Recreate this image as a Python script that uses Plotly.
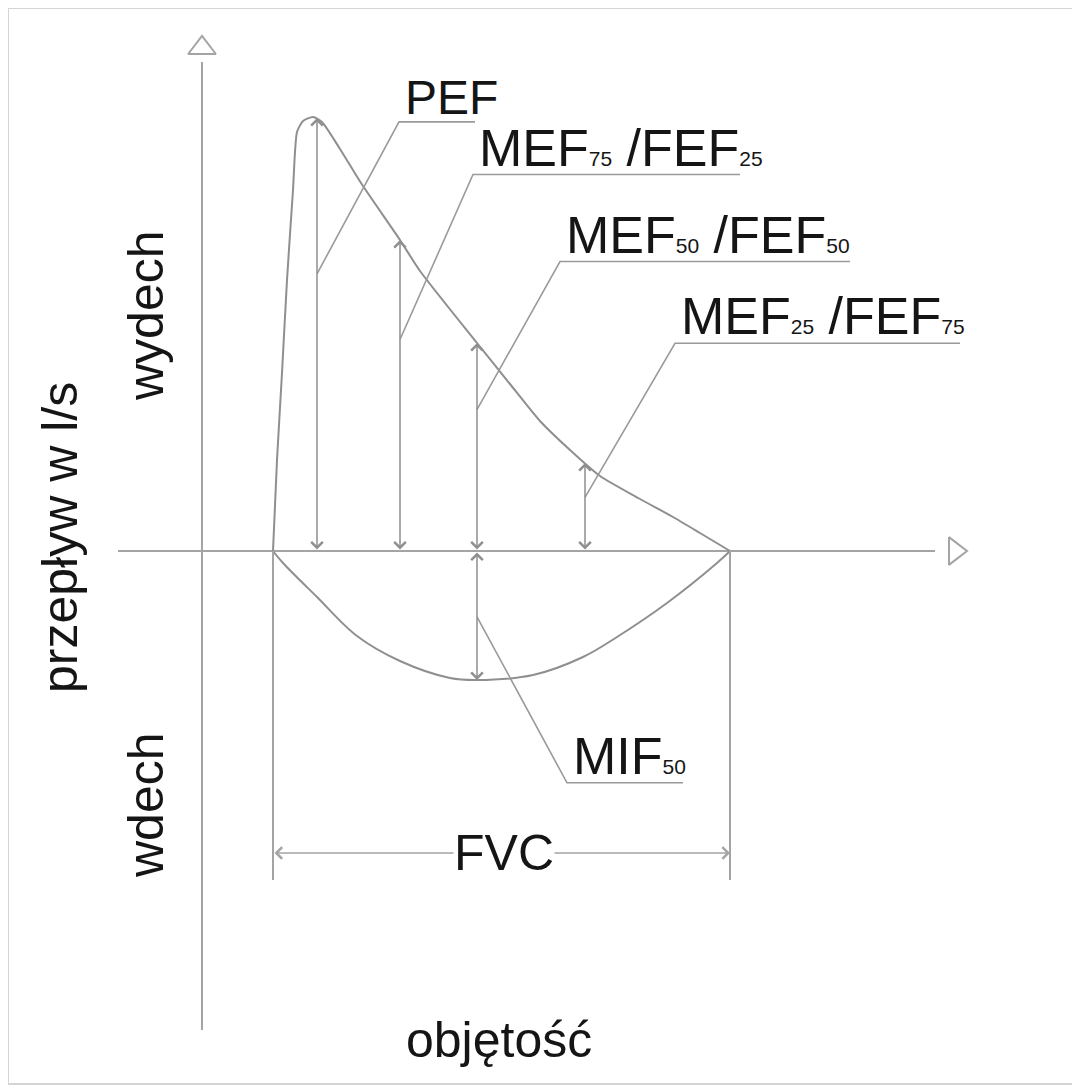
import plotly.graph_objects as go

# ---------------- data (volume in arbitrary litres, flow in l/s) ----------------
exp_volume = [0.71, 0.75, 0.80, 0.85, 0.91, 0.95, 1.01, 1.11, 1.20, 1.38, 1.59, 1.98,
              2.18, 2.75, 3.08, 3.38, 3.68, 3.98, 4.38, 4.71, 4.98, 5.28]
exp_flow = [0.00, 0.91, 1.78, 2.71, 3.61, 4.19, 4.30, 4.34, 4.29, 4.02, 3.68, 3.11,
            2.80, 2.08, 1.67, 1.30, 1.01, 0.75, 0.52, 0.34, 0.18, 0.00]

insp_volume = [0.71, 0.81, 1.15, 1.55, 1.98, 2.48, 2.75, 3.31, 3.81, 4.15, 4.65, 5.15, 5.28]
insp_flow = [0.00, -0.12, -0.46, -0.85, -1.10, -1.27, -1.29, -1.24, -1.06, -0.86, -0.52,
             -0.12, 0.00]

index_names = ["PEF", "MEF75/FEF25", "MEF50/FEF50", "MEF25/FEF75", "MIF50"]
index_volume = [1.15, 1.98, 2.75, 3.83, 2.75]
index_flow = [4.33, 3.11, 2.08, 0.88, -1.29]

fvc_start = 0.71
fvc_end = 5.28

# axis extents
x_axis_min, x_axis_max = -0.84, 7.33
y_axis_min, y_axis_max = -4.79, 4.89

# ---------------- styling / layout constants ----------------
LINE = "#8f8f8f"
AXC = "#a4a4a4"
TEXT = "#151515"
FONT = "Liberation Sans, Arial, sans-serif"
SUB = "<span style='font-size:21px'>{}</span>"
W, H = 1080, 1091
OFF = 8  # page body margin


def px(sx):
    return (sx - OFF) / W


def py(sy):
    return 1 - (sy - OFF) / H


label_texts = [
    "PEF",
    "MEF" + SUB.format("75") + " /FEF" + SUB.format("25"),
    "MEF" + SUB.format("50") + " /FEF" + SUB.format("50"),
    "MEF" + SUB.format("25") + " /FEF" + SUB.format("75"),
    "MIF" + SUB.format("50"),
]
# leader: start fraction along arrow, elbow offset (dx, dy), underline length
leaders = [
    (0.64, 0.82, 1.52, 0.76),
    (0.68, 0.73, 1.65, 2.67),
    (0.68, 0.83, 1.48, 2.90),
    (0.61, 0.90, 1.54, 2.85),
    (0.51, 0.90, -1.66, 1.16),
]
label_sizes = [48, 52, 52, 52, 52]

fig = go.Figure()

# axes
fig.add_trace(go.Scatter(x=[x_axis_min, x_axis_max], y=[0, 0], mode="lines",
                         line=dict(color=AXC, width=2), hoverinfo="skip"))
fig.add_trace(go.Scatter(x=[0, 0], y=[y_axis_min, y_axis_max], mode="lines",
                         line=dict(color=AXC, width=2), hoverinfo="skip"))
fig.add_trace(go.Scatter(x=[x_axis_max + 0.2], y=[0], mode="markers",
                         marker=dict(symbol="triangle-right-open", size=24, color=AXC,
                                     line=dict(color=AXC, width=2)), hoverinfo="skip"))
fig.add_trace(go.Scatter(x=[0], y=[y_axis_max + 0.14], mode="markers",
                         marker=dict(symbol="triangle-up-open", size=24, color=AXC,
                                     line=dict(color=AXC, width=2)), hoverinfo="skip"))

# flow-volume loop
fig.add_trace(go.Scatter(x=exp_volume, y=exp_flow, mode="lines",
                         line=dict(color=LINE, width=2, shape="spline", smoothing=0.6),
                         hoverinfo="skip"))
fig.add_trace(go.Scatter(x=insp_volume, y=insp_flow, mode="lines",
                         line=dict(color=LINE, width=2, shape="spline", smoothing=1.0),
                         hoverinfo="skip"))

# FVC vertical extension lines
fvc_y = -3.02
for v in (fvc_start, fvc_end):
    fig.add_trace(go.Scatter(x=[v, v], y=[0, -3.29], mode="lines",
                             line=dict(color=AXC, width=2), hoverinfo="skip"))

annotations = []

# index arrows (double headed)
for v, f in zip(index_volume, index_flow):
    annotations.append(dict(x=v, y=f, ax=v, ay=0, xref="x", yref="y", axref="x", ayref="y",
                            text="", showarrow=True, arrowhead=4, arrowside="end+start",
                            arrowsize=1.5, arrowwidth=1.5, arrowcolor=LINE))

# leaders + labels
for (frac, dx, dy, ul), v, f, txt, fs in zip(leaders, index_volume, index_flow,
                                             label_texts, label_sizes):
    x0, y0 = v, f * frac
    x1, y1 = x0 + dx, y0 + dy
    fig.add_trace(go.Scatter(x=[x0, x1, x1 + ul], y=[y0, y1, y1], mode="lines",
                             line=dict(color="#9a9a9a", width=1.6), hoverinfo="skip"))
    annotations.append(dict(x=x1 + 0.04, y=y1, xref="x", yref="y", text=txt,
                            showarrow=False, xanchor="left", yanchor="bottom",
                            yshift=-4, font=dict(family=FONT, size=fs, color=TEXT)))

# FVC dimension arrow
annotations.append(dict(x=fvc_end, y=fvc_y, ax=fvc_start, ay=fvc_y, xref="x", yref="y",
                        axref="x", ayref="y", text="", showarrow=True, arrowhead=4,
                        arrowside="end+start", arrowsize=1.5, arrowwidth=1.5,
                        arrowcolor=AXC))
annotations.append(dict(x=(fvc_start + fvc_end) / 2 + 0.02, y=fvc_y, xref="x", yref="y",
                        text="FVC", showarrow=False, bgcolor="white", borderpad=0,
                        font=dict(family=FONT, size=50, color=TEXT)))

# axis texts
annotations += [
    dict(x=px(60), y=py(538), xref="paper", yref="paper", text="przepływ w l/s",
         textangle=-90, showarrow=False, xanchor="center", yanchor="middle",
         font=dict(family=FONT, size=50, color=TEXT)),
    dict(x=px(146), y=py(316), xref="paper", yref="paper", text="wydech",
         textangle=-90, showarrow=False, xanchor="center", yanchor="middle",
         font=dict(family=FONT, size=50, color=TEXT)),
    dict(x=px(146), y=py(805), xref="paper", yref="paper", text="wdech",
         textangle=-90, showarrow=False, xanchor="center", yanchor="middle",
         font=dict(family=FONT, size=50, color=TEXT)),
    dict(x=px(499), y=py(1040), xref="paper", yref="paper", text="objętość",
         showarrow=False, xanchor="center", yanchor="middle",
         font=dict(family=FONT, size=50, color=TEXT)),
]

fig.update_layout(
    width=W, height=H,
    margin=dict(l=0, r=0, t=0, b=0),
    paper_bgcolor="white", plot_bgcolor="white",
    showlegend=False,
    xaxis=dict(range=[(OFF - 202) / 100, (OFF + W - 202) / 100], visible=False,
               fixedrange=True),
    yaxis=dict(range=[(551 - OFF - H) / 100, (551 - OFF) / 100], visible=False,
               fixedrange=True),
    annotations=annotations,
    shapes=[dict(type="rect", xref="paper", yref="paper",
                 x0=px(8), x1=px(1074), y0=py(1084), y1=py(8),
                 line=dict(color="#d4d4d4", width=2))],
)

fig.write_html("out.html")
